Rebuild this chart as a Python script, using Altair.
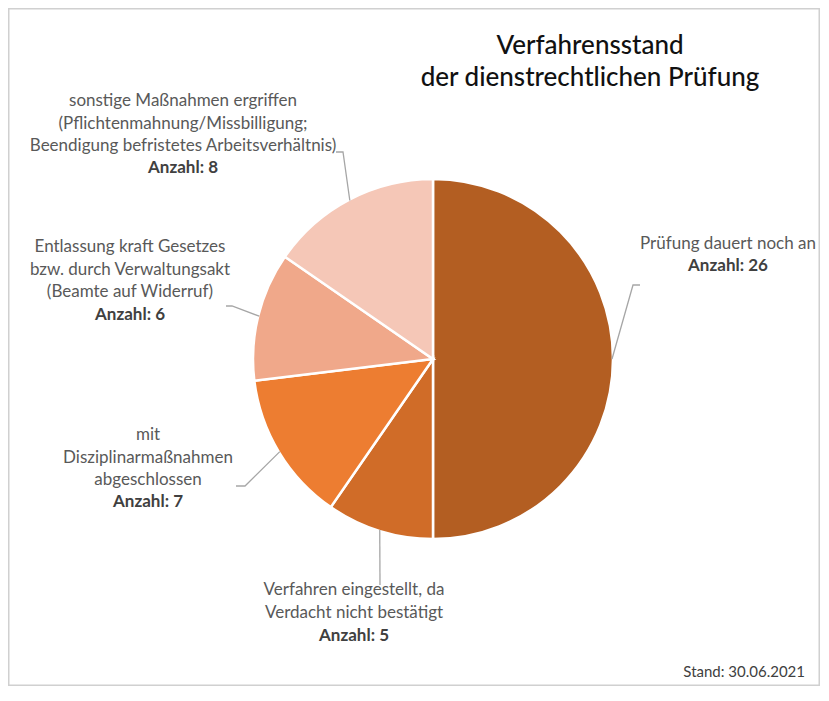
import altair as alt
import pandas as pd
import numpy as np

# ---- data ----
categories = [
    "Prüfung dauert noch an",
    "Verfahren eingestellt, da\nVerdacht nicht bestätigt",
    "mit\nDisziplinarmaßnahmen\nabgeschlossen",
    "Entlassung kraft Gesetzes\nbzw. durch Verwaltungsakt\n(Beamte auf Widerruf)",
    "sonstige Maßnahmen ergriffen\n(Pflichtenmahnung/Missbilligung;\nBeendigung befristetes Arbeitsverhältnis)",
]
counts = [26, 5, 7, 6, 8]
colors = ["#B35E22", "#D06C28", "#ED7D31", "#F0A88A", "#F5C7B7"]
title_lines = ["Verfahrensstand", "der dienstrechtlichen Prüfung"]
footnote = "Stand: 30.06.2021"

# ---- layout (pixel positions inside the view) ----
W, H = 812, 678
CX, CY, R = 425, 351, 180
# label anchor: (x center, y of first normal line, y of bold line)
label_pos = [
    (720, 236, 258),
    (346, 582, 628),
    (140, 427, 494),
    (122, 239, 307),
    (175, 93, 160),
]
# leader lines: elbow and end point (start is the slice middle on the rim)
leader_pts = [
    [(625, 277), (632, 277)],
    [(372, 577)],
    [(237, 478), (228, 478)],
    [(224, 298), (218, 298)],
    [(335, 144), (328, 144)],
]

total = sum(counts)
cum = np.cumsum(counts)
mid = [2 * np.pi * (c - v / 2) / total for c, v in zip(cum, counts)]

df = pd.DataFrame({
    "key": [f"k{i}" for i in range(len(counts))],
    "idx": list(range(len(counts))),
    "count": counts,
    "label": categories,
    "bold": [f"Anzahl: {v}" for v in counts],
    "lx": [p[0] for p in label_pos],
    "ly": [p[1] for p in label_pos],
    "by": [p[2] for p in label_pos],
})

rows = []
for i, a in enumerate(mid):
    pts = [(CX + (R - 1) * np.sin(a), CY - (R - 1) * np.cos(a))] + leader_pts[i]
    for j, (x, y) in enumerate(pts):
        rows.append({"key": f"k{i}", "o": j, "x": x, "y": y})
lines_df = pd.DataFrame(rows)

title_df = pd.DataFrame({"t": title_lines, "y": [38, 70]})
FONT = "Lato"

arcs = alt.Chart(df).mark_arc(outerRadius=R, stroke="white", strokeWidth=2.5).encode(
    theta=alt.Theta("count:Q", stack=True),
    color=alt.Color("key:N", scale=alt.Scale(domain=df["key"].tolist(), range=colors), legend=None),
    order=alt.Order("idx:Q"),
    x=alt.value(CX),
    y=alt.value(CY),
)

leaders = alt.Chart(lines_df).mark_line(color="#A6A6A6", strokeWidth=1.3).encode(
    x=alt.X("x:Q", scale=None),
    y=alt.Y("y:Q", scale=None),
    detail="key:N",
    order="o:Q",
)

labels = alt.Chart(df).mark_text(
    font=FONT, fontSize=17, color="#595959", lineBreak="\n", lineHeight=22.5,
    align="center", baseline="middle",
).encode(x=alt.X("lx:Q", scale=None), y=alt.Y("ly:Q", scale=None), text="label:N")

bolds = alt.Chart(df).mark_text(
    font=FONT, fontSize=17, color="#404040", fontWeight="bold",
    align="center", baseline="middle",
).encode(x=alt.X("lx:Q", scale=None), y=alt.Y("by:Q", scale=None), text="bold:N")

title = alt.Chart(title_df).mark_text(
    font=FONT, fontSize=26, color="#111111", fontWeight=500, align="center", baseline="middle",
).encode(x=alt.value(582), y=alt.Y("y:Q", scale=None), text="t:N")

foot = alt.Chart(pd.DataFrame({"t": [footnote]})).mark_text(
    font=FONT, fontSize=15, color="#404040", align="right", baseline="middle",
).encode(x=alt.value(797), y=alt.value(664), text="t:N")

border = alt.Chart(pd.DataFrame({"a": [0]})).mark_rect(
    fill="white", stroke="#D0D0D0", strokeWidth=1.5,
).encode(x=alt.value(0.75), x2=alt.value(W - 0.75), y=alt.value(0.75), y2=alt.value(H - 0.75))

chart = alt.layer(border, arcs, leaders, labels, bolds, title, foot).properties(
    width=W, height=H, padding=0
).configure_view(stroke=None)

chart.save("out.html", embed_options={"renderer": "svg", "actions": False})
